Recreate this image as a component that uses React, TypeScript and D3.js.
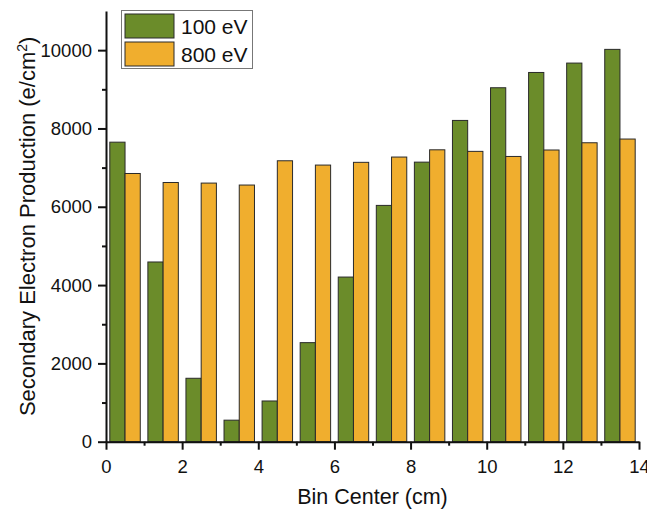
import React, { useEffect, useRef } from 'react';
import * as d3 from 'd3';

// bin centers (cm) and yields
const binCenters = [0.5, 1.5, 2.5, 3.5, 4.5, 5.5, 6.5, 7.5, 8.5, 9.5, 10.5, 11.5, 12.5, 13.5];
const ev100 = [7650, 4590, 1620, 550, 1040, 2530, 4205, 6035, 7140, 8205, 9040, 9430, 9670, 10020];
const ev800 = [6850, 6620, 6605, 6555, 7175, 7065, 7135, 7270, 7455, 7415, 7285, 7450, 7635, 7730];
const seriesNames = ['100 eV', '800 eV'];
const seriesColors = ['#6b8c2a', '#f0ae2e'];
const xTicks = [0, 2, 4, 6, 8, 10, 12, 14];
const yTicks = [0, 2000, 4000, 6000, 8000, 10000];

const W = 647;
const H = 509;
const M = { top: 11, right: 8, bottom: 67, left: 106 };
const FONT = 'Arial, "Liberation Sans", sans-serif';

export default function App() {
  const ref = useRef<SVGSVGElement>(null);

  useEffect(() => {
    const svg = d3.select(ref.current);
    svg.selectAll('*').remove();
    const innerW = 639 - M.left;
    const innerH = 441.7 - M.top;

    const x = d3.scaleLinear().domain([0, 14]).range([0, innerW]);
    const y = d3.scaleLinear().domain([0, 11000]).range([innerH, 0]);
    const barW = 0.4;

    const g = svg.append('g').attr('transform', `translate(${M.left},${M.top})`);

    const series = [ev100, ev800];
    series.forEach((vals, si) => {
      g.selectAll(`rect.s${si}`)
        .data(vals)
        .join('rect')
        .attr('class', `s${si}`)
        .attr('x', (_, i) => x(binCenters[i] - barW + si * barW))
        .attr('width', x(barW) - x(0))
        .attr('y', (d) => y(d))
        .attr('height', (d) => innerH - y(d))
        .attr('fill', seriesColors[si])
        .attr('stroke', '#2a2a2a')
        .attr('stroke-width', 1);
    });

    // x axis
    const xa = g.append('g').attr('transform', `translate(0,${innerH})`);
    xa.call(d3.axisBottom(x).tickValues(xTicks).tickSize(8).tickPadding(10).tickSizeOuter(0).tickFormat(d3.format('d')));
    const xMinor = g.append('g').attr('transform', `translate(0,${innerH})`);
    xMinor.call(d3.axisBottom(x).tickValues(d3.range(1, 14, 2)).tickSize(4).tickSizeOuter(0).tickFormat(() => ''));
    xMinor.select('.domain').remove();

    // y axis
    const ya = g.append('g');
    ya.call(d3.axisLeft(y).tickValues(yTicks).tickSize(8).tickPadding(6).tickSizeOuter(0).tickFormat(d3.format('d')));
    const yMinor = g.append('g');
    yMinor.call(d3.axisLeft(y).tickValues(d3.range(1000, 11000, 2000)).tickSize(4).tickSizeOuter(0).tickFormat(() => ''));
    yMinor.select('.domain').remove();

    [xa, xMinor, ya, yMinor].forEach((a) => {
      a.selectAll('path,line').attr('stroke', '#111').attr('stroke-width', 2);
      a.selectAll('text').attr('fill', '#111').attr('font-size', 18.5).attr('font-family', FONT);
    });

    // titles
    svg.append('text')
      .attr('x', M.left + innerW / 2)
      .attr('y', 504)
      .attr('text-anchor', 'middle')
      .attr('font-family', FONT)
      .attr('font-size', 21.5)
      .attr('fill', '#111')
      .text('Bin Center (cm)');

    const yt = svg.append('text')
      .attr('transform', `translate(35,${M.top + innerH / 2}) rotate(-90)`)
      .attr('text-anchor', 'middle')
      .attr('font-family', FONT)
      .attr('font-size', 22)
      .attr('fill', '#111');
    yt.append('tspan').text('Secondary Electron Production (e/cm');
    yt.append('tspan').attr('font-size', 14).attr('dy', -8).text('2');
    yt.append('tspan').attr('dy', 8).text(')');

    // legend
    const lg = svg.append('g');
    lg.append('rect')
      .attr('x', 121.5).attr('y', 10.5).attr('width', 131).attr('height', 58)
      .attr('fill', '#fff').attr('stroke', '#777').attr('stroke-width', 1);
    seriesNames.forEach((name, i) => {
      lg.append('rect')
        .attr('x', 125).attr('y', 14 + i * 28).attr('width', 49).attr('height', 24)
        .attr('fill', seriesColors[i]).attr('stroke', '#2a2a2a');
      lg.append('text')
        .attr('x', 181).attr('y', 34 + i * 28)
        .attr('font-family', FONT).attr('font-size', 21).attr('fill', '#111')
        .text(name);
    });
  }, []);

  return (
    <svg ref={ref} width={W} height={H} style={{ display: 'block', position: 'absolute', left: 0, top: 0 }} />
  );
}
